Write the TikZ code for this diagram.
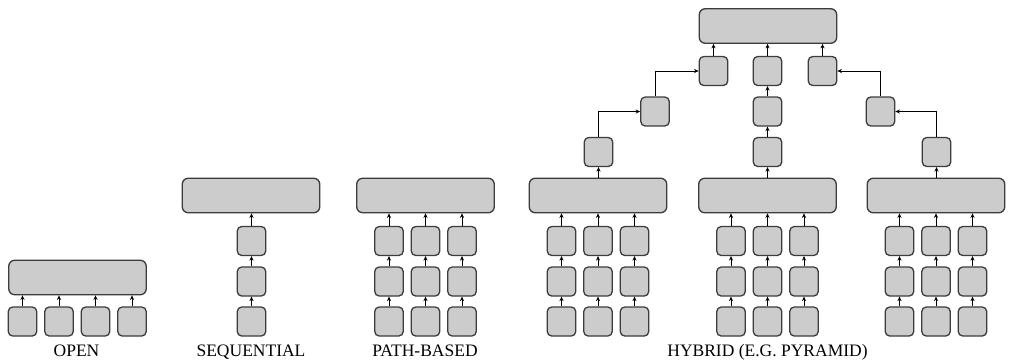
\documentclass[tikz,border=0pt]{standalone}
\usepackage{fontspec}
\setmainfont{Liberation Serif}
\usetikzlibrary{arrows.meta}
\definecolor{boxline}{HTML}{3C3C3C}
\definecolor{boxfill}{HTML}{CCCCCC}
\begin{document}
\begin{tikzpicture}[x=1pt,y=-1pt,
 sbox/.style={draw=boxline,fill=boxfill,line width=1.3pt,rounded corners=4.5pt,minimum width=28.5pt,minimum height=29pt,inner sep=0pt},
 bbox/.style={sbox,minimum width=137.5pt,minimum height=34.5pt,rounded corners=6pt},
 arr/.style={-{Stealth[length=4.5pt,width=4.2pt]},line width=0.9pt,black},
 lbl/.style={font=\fontsize{17.5}{20}\selectfont,anchor=base}]
\useasboundingbox (0,0) rectangle (1010,360);
% OPEN
\node[bbox] (ob) at (77.5,277.5) {};
\foreach \i/\x in {1/22.5,2/59,3/95.5,4/132}{
  \node[sbox] (o\i) at (\x,321.5) {};
  \draw[arr] (o\i.north) -- (o\i.north |- ob.south);
}
\node[lbl] (lopen) at (76.5,356) {OPEN};
% SEQUENTIAL
\node[bbox] (sb) at (251,195.5) {};
\node[sbox] (s1) at (251.5,321.5) {};
\node[sbox] (s2) at (251.5,281.5) {};
\node[sbox] (s3) at (251.5,241) {};
\draw[arr] (s1) -- (s2);
\draw[arr] (s2) -- (s3);
\draw[arr] (s3.north) -- (s3.north |- sb.south);
\node[lbl] (lseq) at (251,356) {SEQUENTIAL};
% PATH-BASED and HYBRID lower groups
\foreach \g/\cx in {p/425.5,hl/598,hm/767.5,hr/936}{
  \node[bbox] (\g b) at (\cx,195.5) {};
  \foreach \c/\dx in {1/-36.5,2/0,3/36.5}{
    \node[sbox] (\g\c a) at (\cx+\dx,321.5) {};
    \node[sbox] (\g\c b) at (\cx+\dx,281.5) {};
    \node[sbox] (\g\c c) at (\cx+\dx,241) {};
    \draw[arr] (\g\c a) -- (\g\c b);
    \draw[arr] (\g\c b) -- (\g\c c);
    \draw[arr] (\g\c c.north) -- (\g\c c.north |- \g b.south);
  }
}
\node[lbl] (lpath) at (425,356) {PATH-BASED};
\node[lbl] (lhyb) at (767.5,356) {HYBRID (E.G. PYRAMID)};
% HYBRID upper part
\node[sbox] (u1) at (598.5,152) {};
\node[sbox] (u2) at (655,111.5) {};
\node[sbox] (m1) at (767.5,152) {};
\node[sbox] (m2) at (767.5,111.5) {};
\node[sbox] (r1) at (936.5,152) {};
\node[sbox] (r2) at (880.5,111.5) {};
\node[sbox] (t1) at (713.5,71) {};
\node[sbox] (t2) at (767.5,71) {};
\node[sbox] (t3) at (822.5,71) {};
\node[bbox] (top) at (768,26) {};
\draw[arr] (hlb.north -| u1.south) -- (u1.south);
\draw[arr] (u1.north) |- (u2.west);
\draw[arr] (u2.north) |- (t1.west);
\draw[arr] (hmb.north -| m1.south) -- (m1.south);
\draw[arr] (m1) -- (m2);
\draw[arr] (m2) -- (t2);
\draw[arr] (hrb.north -| r1.south) -- (r1.south);
\draw[arr] (r1.north) |- (r2.east);
\draw[arr] (r2.north) |- (t3.east);
\foreach \t in {t1,t2,t3}{
  \draw[arr] (\t.north) -- (\t.north |- top.south);
}
\end{tikzpicture}
\end{document}
